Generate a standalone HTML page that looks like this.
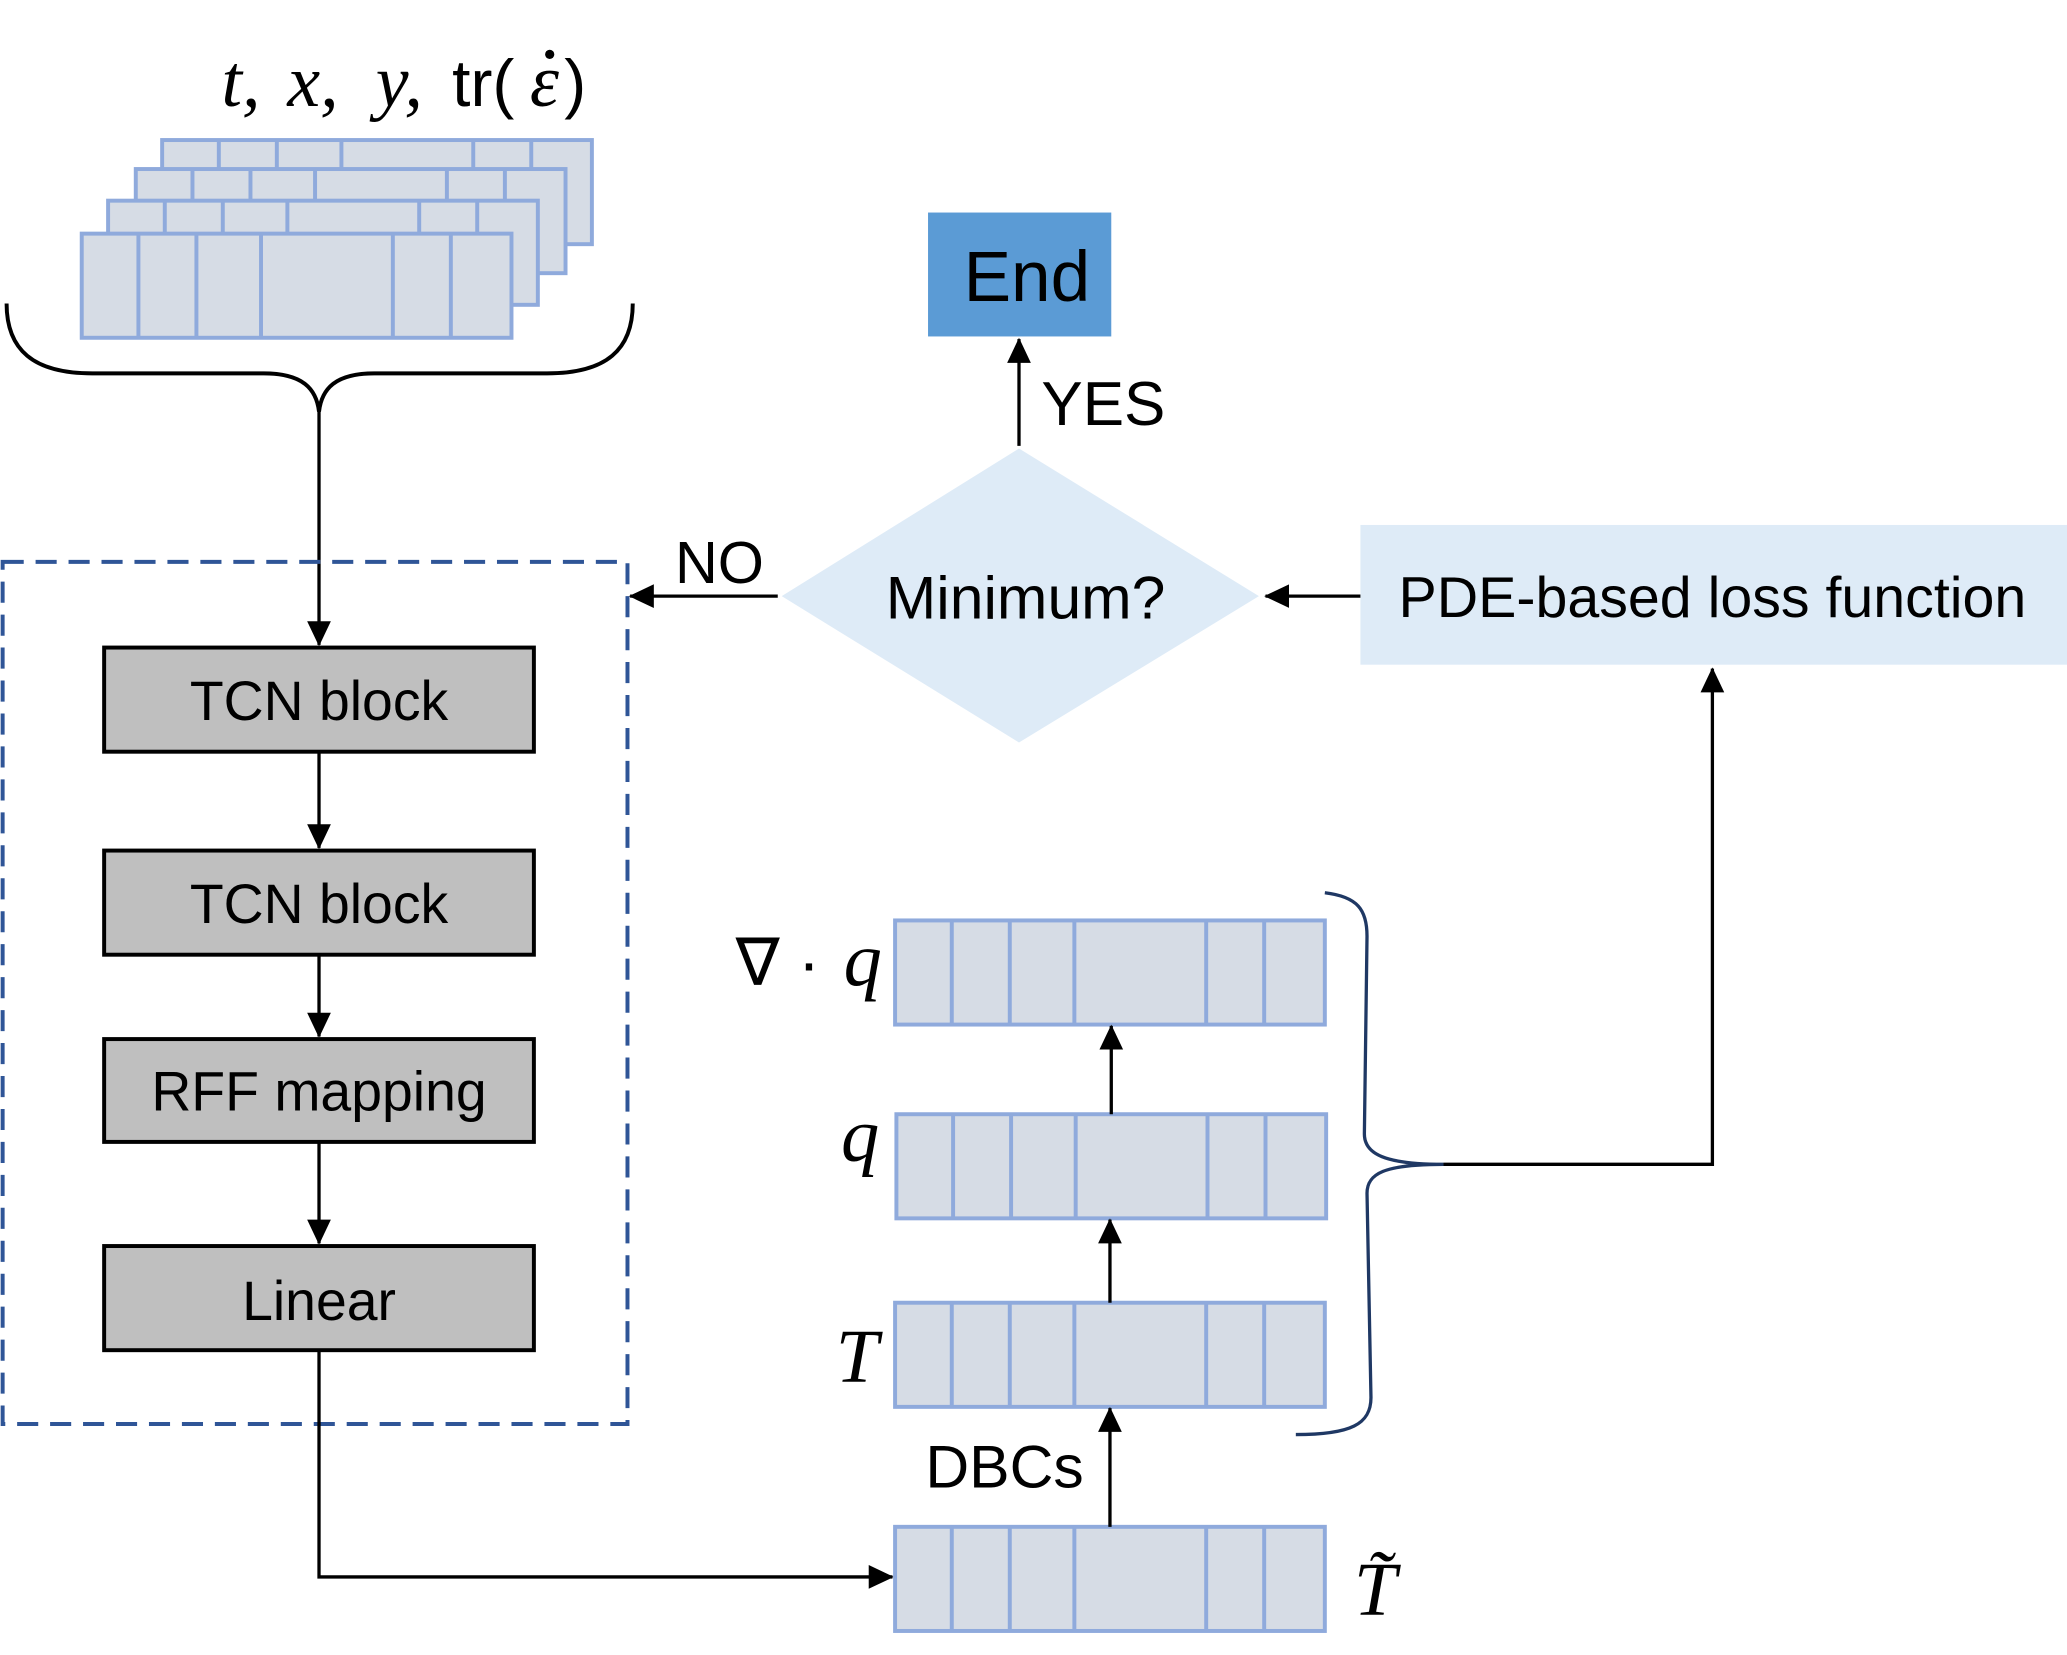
<!DOCTYPE html>
<html><head><meta charset="utf-8"><style>
html,body{margin:0;padding:0;background:#fff;}
svg{display:block;}
.s{font-family:"Liberation Sans","DejaVu Sans",sans-serif;}
.m{font-family:"Liberation Serif","DejaVu Serif",serif;font-style:italic;}
</style></head><body>
<svg width="2067" height="1655" viewBox="0 0 1568 1255" xmlns="http://www.w3.org/2000/svg">
<defs>
<marker id="b" markerWidth="20" markerHeight="20" refX="18" refY="10" orient="auto" markerUnits="userSpaceOnUse" viewBox="0 0 20 20">
<path d="M0,1 L19,10 L0,19 z" fill="#000"/></marker>
</defs>

<!-- title -->
<g font-size="56" fill="#000">
<text x="168" y="80" class="m">t,</text>
<text x="218" y="80" class="m">x,</text>
<text x="285" y="80" class="m">y,</text>
<text x="343" y="80" class="s" font-size="50">tr(</text>
<text x="402" y="80" class="m">ε</text>
<text x="428" y="80" class="s" font-size="50">)</text>
</g>
<circle cx="417" cy="41" r="3.5" fill="#000"/>

<!-- stacked tables -->
<g fill="#d6dce5" stroke="#8faadc" stroke-width="3">
<g transform="translate(61,-71)"><rect x="62" y="177" width="326" height="79"/><path d="M105,177V256M149,177V256M198,177V256M298,177V256M342,177V256"/></g>
<g transform="translate(41,-49)"><rect x="62" y="177" width="326" height="79"/><path d="M105,177V256M149,177V256M198,177V256M298,177V256M342,177V256"/></g>
<g transform="translate(20,-25)"><rect x="62" y="177" width="326" height="79"/><path d="M105,177V256M149,177V256M198,177V256M298,177V256M342,177V256"/></g>
<rect x="62" y="177" width="326" height="79"/><path d="M105,177V256M149,177V256M198,177V256M298,177V256M342,177V256"/>
</g>

<!-- left brace -->
<path d="M5,230 C5,265 25,283 70,283 L200,283 C230,283 240,295 242,312 C244,295 254,283 284,283 L415,283 C460,283 480,265 480,230" fill="none" stroke="#000" stroke-width="3"/>
<line x1="242" y1="310" x2="242" y2="489" stroke="#000" stroke-width="2.5" marker-end="url(#b)"/>

<!-- dashed container -->
<rect x="2" y="426" width="474" height="654" fill="none" stroke="#2f5597" stroke-width="3" stroke-dasharray="16,9"/>

<g fill="#bfbfbf" stroke="#000" stroke-width="3">
<rect x="79" y="491" width="326" height="79"/>
<rect x="79" y="645" width="326" height="79"/>
<rect x="79" y="788" width="326" height="78"/>
<rect x="79" y="945" width="326" height="79"/>
</g>
<g class="s" font-size="42" text-anchor="middle" fill="#000">
<text x="242" y="546">TCN block</text>
<text x="242" y="700">TCN block</text>
<text x="242" y="842">RFF mapping</text>
<text x="242" y="1001">Linear</text>
</g>
<g stroke="#000" stroke-width="2.5">
<line x1="242" y1="570" x2="242" y2="643" marker-end="url(#b)"/>
<line x1="242" y1="724" x2="242" y2="786" marker-end="url(#b)"/>
<line x1="242" y1="866" x2="242" y2="943" marker-end="url(#b)"/>
<polyline points="242,1024 242,1196 677,1196" fill="none" marker-end="url(#b)"/>
</g>

<!-- right tables -->
<g fill="#d6dce5" stroke="#8faadc" stroke-width="3">
<g transform="translate(617,981)"><rect x="62" y="177" width="326" height="79"/><path d="M105,177V256M149,177V256M198,177V256M298,177V256M342,177V256"/></g>
<g transform="translate(617,811)"><rect x="62" y="177" width="326" height="79"/><path d="M105,177V256M149,177V256M198,177V256M298,177V256M342,177V256"/></g>
<g transform="translate(618,668)"><rect x="62" y="177" width="326" height="79"/><path d="M105,177V256M149,177V256M198,177V256M298,177V256M342,177V256"/></g>
<g transform="translate(617,521)"><rect x="62" y="177" width="326" height="79"/><path d="M105,177V256M149,177V256M198,177V256M298,177V256M342,177V256"/></g>
</g>
<g class="m" font-size="58" fill="#000">
<text x="1027" y="1225">T̃</text>
<text x="634" y="1048">T</text>
<text x="638" y="880">q</text>
<text x="640" y="747">q</text>
</g>
<text x="558" y="747" font-size="50" class="s">∇ ·</text>
<text x="702" y="1128" font-size="46" class="s">DBCs</text>
<g stroke="#000" stroke-width="2.5">
<line x1="842" y1="1158" x2="842" y2="1068" marker-end="url(#b)"/>
<line x1="842" y1="988" x2="842" y2="925" marker-end="url(#b)"/>
<line x1="843" y1="845" x2="843" y2="778" marker-end="url(#b)"/>
</g>

<!-- right brace -->
<path d="M1005,677 C1030,680 1037,690 1037,710 L1035,860 C1035,875 1050,883 1095,883 C1050,883 1037,890 1037,905 L1040,1060 C1040,1080 1025,1088 983,1088" fill="none" stroke="#1f3864" stroke-width="2.5"/>
<polyline points="1095,883 1299,883 1299,507" fill="none" stroke="#000" stroke-width="2.5" marker-end="url(#b)"/>

<!-- PDE box -->
<rect x="1032" y="398" width="536" height="106" fill="#deebf7"/>
<text x="1299" y="468" font-size="43.5" class="s" text-anchor="middle">PDE-based loss function</text>
<line x1="1032" y1="452" x2="960" y2="452" stroke="#000" stroke-width="2.5" marker-end="url(#b)"/>

<!-- diamond -->
<polygon points="773,340 955,452 773,563 593,452" fill="#deebf7"/>
<text x="778" y="469" font-size="46" class="s" text-anchor="middle">Minimum?</text>
<line x1="590" y1="452" x2="478" y2="452" stroke="#000" stroke-width="2.5" marker-end="url(#b)"/>
<text x="512" y="442" font-size="45" class="s">NO</text>
<line x1="773" y1="338" x2="773" y2="257" stroke="#000" stroke-width="2.5" marker-end="url(#b)"/>
<text x="790" y="322" font-size="47" class="s">YES</text>

<!-- End -->
<rect x="704" y="161" width="139" height="94" fill="#5b9bd5"/>
<text x="779" y="228" font-size="54" class="s" text-anchor="middle">End</text>
</svg>
</body></html>
